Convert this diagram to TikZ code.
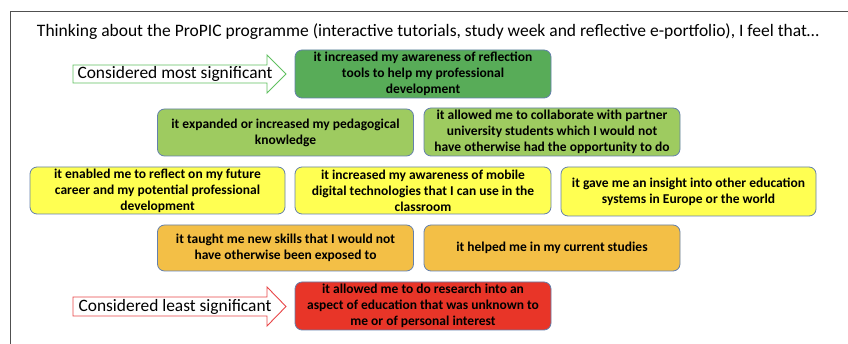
\documentclass[tikz,border=0pt]{standalone}
\usepackage{fontspec}
\setmainfont{Carlito}
\definecolor{topgreen}{RGB}{88,172,88}
\definecolor{midgreen}{RGB}{158,203,96}
\definecolor{ranky}{RGB}{255,255,82}
\definecolor{ranko}{RGB}{243,191,70}
\definecolor{rankr}{RGB}{232,53,40}
\definecolor{rimcol}{RGB}{100,128,172}
\definecolor{framecol}{RGB}{80,80,80}
\definecolor{arrowg}{RGB}{96,192,96}
\definecolor{arrowr}{RGB}{232,70,72}
\tikzset{
  stmt/.style={draw=rimcol, line width=.8pt, rounded corners=7pt, inner sep=0pt,
    minimum width=256pt, minimum height=48pt, align=center,
    font=\fontsize{13.5}{16}\selectfont\bfseries},
  hint/.style={line width=.9pt, fill=white},
}
\begin{document}
\begin{tikzpicture}[x=1pt, y=-1pt]
	\useasboundingbox (0,0) rectangle (848,344);
	% frame
	\draw[framecol, line width=1pt] (10,344) -- (10,12) -- (848,12);
	\node (title) at (428,32) {\fontsize{17.5}{21}\selectfont Thinking about the ProPIC programme (interactive tutorials, study week and reflective e-portfolio), I feel that\dots};
	% arrows
	\draw[hint, draw=arrowg] (73,65) -- ++(194,0) -- ++(0,-10) -- (286,74) -- (267,93) -- ++(0,-10) -- ++(-194,0) -- cycle;
	\node (most) at (175,74) {\fontsize{17.4}{20}\selectfont Considered most significant};
	\draw[hint, draw=arrowr] (73,297) -- ++(194,0) -- ++(0,-10) -- (286,306.5) -- (267,326) -- ++(0,-10) -- ++(-194,0) -- cycle;
	\node (least) at (175,306.5) {\fontsize{17.4}{20}\selectfont Considered least significant};
	% ranked statements
	\node[stmt, fill=topgreen] (s1) at (423,74) {it increased my awareness of reflection\\tools to help my professional\\development};
	\node[stmt, fill=midgreen, minimum height=47pt] (s2) at (285.5,132.5) {it expanded or increased my pedagogical\\knowledge};
	\node[stmt, fill=midgreen] (s3) at (552,132) {it allowed me to collaborate with partner\\university students which I would not\\have otherwise had the opportunity to do};
	\node[stmt, fill=ranky, minimum width=255pt, minimum height=47pt] (s4) at (157.5,190.5) {it enabled me to reflect on my future\\career and my potential professional\\development};
	\node[stmt, fill=ranky, minimum height=47pt] (s5) at (423,190.5) {it increased my awareness of mobile\\digital technologies that I can use in the\\classroom};
	\node[stmt, fill=ranky, minimum width=255pt, minimum height=49pt] (s6) at (688.5,191.5) {it gave me an insight into other education\\systems in Europe or the world};
	\node[stmt, fill=ranko, minimum height=46pt] (s7) at (285.5,248) {it taught me new skills that I would not\\have otherwise been exposed to};
	\node[stmt, fill=ranko, minimum height=46pt] (s8) at (552,248) {it helped me in my current studies};
	\node[stmt, fill=rankr] (s9) at (423,306) {it allowed me to do research into an\\aspect of education that was unknown to\\me or of personal interest};
\end{tikzpicture}
\end{document}
